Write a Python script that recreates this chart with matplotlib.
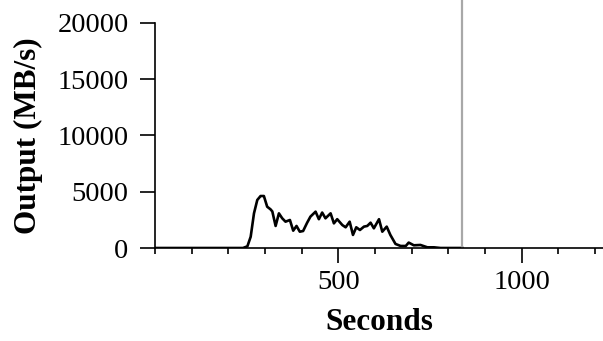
import matplotlib
matplotlib.use("Agg")
import matplotlib.pyplot as plt
from matplotlib.ticker import MultipleLocator

# valores
seconds = [0, 120, 240, 252, 261, 270, 279, 288, 297, 306, 315, 320, 329, 338, 347,
           356, 368, 377, 386, 395, 404, 415, 424, 438, 447, 456, 465, 479, 488,
           497, 511, 520, 531, 540, 549, 559, 570, 579, 588, 597, 611, 620, 632,
           642, 656, 670, 684, 692, 706, 724, 743, 761, 779, 800, 838]
output = [0, 0, 0, 150, 1000, 3080, 4270, 4620, 4620, 3670, 3440, 3250, 1960, 3080,
          2640, 2340, 2490, 1540, 1960, 1450, 1510, 2250, 2790, 3230, 2560, 3150,
          2640, 3080, 2190, 2560, 2040, 1840, 2340, 1160, 1840, 1600, 1900, 1960,
          2250, 1750, 2560, 1450, 1900, 1160, 360, 180, 180, 480, 240, 270, 60,
          60, 0, 0, 0]
marker_x = 838

plt.rcParams['font.family'] = ['Liberation Serif', 'DejaVu Serif']

fig = plt.figure(figsize=(6.03, 3.41), dpi=100)
ax = fig.add_axes([155 / 603, 1 - 248 / 341, 448 / 603, 248 / 341])

ax.plot(seconds, output, color="black", lw=1.9)
ax.axvline(marker_x, color="#a8a8a8", lw=1.6)

ax.set_xlim(0, 1222)
ax.set_ylim(0, 22044)
ax.spines["top"].set_visible(False)
ax.spines["right"].set_visible(False)
ax.spines["left"].set_bounds(0, 20000)
for s in ("left", "bottom"):
    ax.spines[s].set_linewidth(1.2)

ax.set_yticks([0, 5000, 10000, 15000, 20000])
ax.set_xticks([500, 1000])
ax.xaxis.set_minor_locator(MultipleLocator(100))
ax.tick_params(axis="both", which="major", length=11, width=1.2, labelsize=20.5)
ax.tick_params(axis="y", pad=8)
ax.tick_params(axis="x", pad=5)
ax.tick_params(axis="x", which="minor", length=4, width=1.2)

ax.set_xlabel("Seconds", fontsize=22.5, fontweight="bold", labelpad=9)
ax.set_ylabel("Output (MB/s)", fontsize=22.5, fontweight="bold")
# centrar la etiqueta sobre el eje 0-20000
ax.yaxis.set_label_coords(-0.25, 10000 / 22044)

fig.savefig("out.png", dpi=100)
